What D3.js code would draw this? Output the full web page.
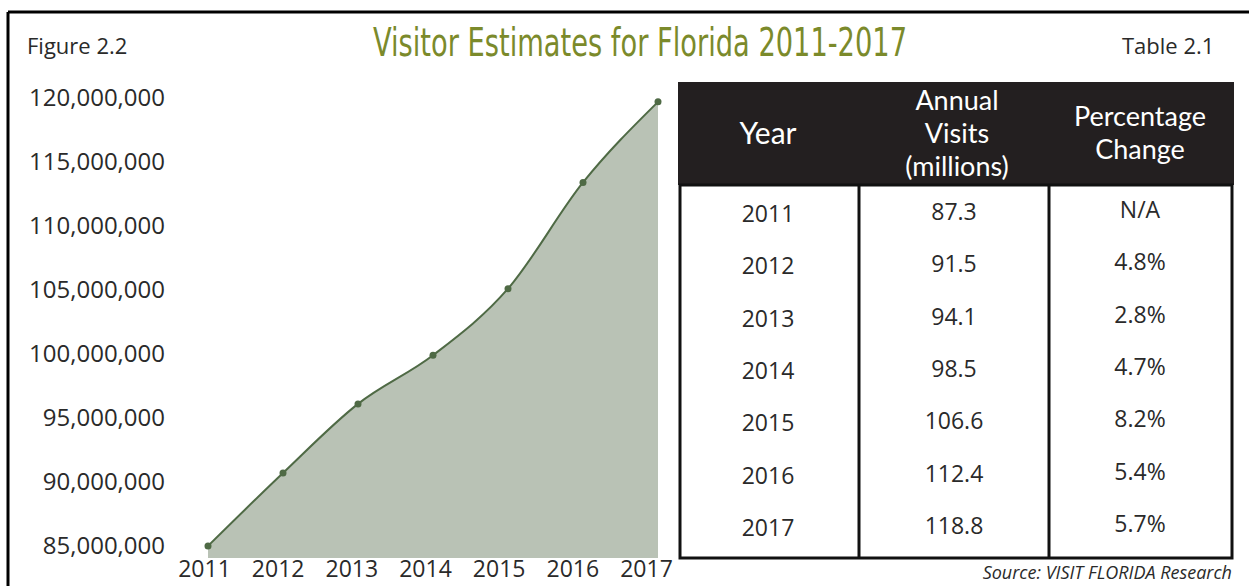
<!doctype html>
<html lang="en">
<head>
  <meta charset="utf-8">
  <title>Visitor Estimates for Florida 2011-2017</title>
  <script src="https://cdn.jsdelivr.net/npm/d3@7"></script>
  <style>
    body { margin: 0; background: #fff; }
    svg { display: block; font-family: "Open Sans", sans-serif; }
  </style>
</head>
<body>
  <svg id="chart"></svg>

  <script>
    // chart values
    var years = [2011, 2012, 2013, 2014, 2015, 2016, 2017];
    var chartVisits = [85000000, 90700000, 96100000, 99900000, 105100000, 113400000, 119700000];
    var yTicks = [85000000, 90000000, 95000000, 100000000, 105000000, 110000000, 115000000, 120000000];

    // table values
    var tableYears = ["2011", "2012", "2013", "2014", "2015", "2016", "2017"];
    var annualVisits = ["87.3", "91.5", "94.1", "98.5", "106.6", "112.4", "118.8"];
    var pctChange = ["N/A", "4.8%", "2.8%", "4.7%", "8.2%", "5.4%", "5.7%"];

    var W = 1249, H = 586;
    var TEXT = "#2a2a2a";
    var GREEN = "#4f6a45";

    var svg = d3.select("#chart").attr("width", W).attr("height", H);

    // frame
    svg.append("line").attr("x1", 8).attr("x2", W).attr("y1", 12).attr("y2", 12)
      .attr("stroke", "#000").attr("stroke-width", 3);
    svg.append("line").attr("x1", 8).attr("x2", 8).attr("y1", 12).attr("y2", H)
      .attr("stroke", "#000").attr("stroke-width", 3);

    // headings
    svg.append("text").attr("x", 27).attr("y", 54).text("Figure 2.2")
      .attr("font-size", 22).attr("fill", TEXT);
    svg.append("text").attr("x", 1122).attr("y", 54).text("Table 2.1")
      .attr("font-size", 22).attr("fill", TEXT);
    svg.append("text").attr("x", 373).attr("y", 56)
      .text("Visitor Estimates for Florida 2011-2017")
      .attr("font-family", "'Liberation Sans Narrow', 'DejaVu Sans Condensed', sans-serif")
      .attr("font-size", 39).attr("fill", "#7b8a2b")
      .attr("textLength", 534).attr("lengthAdjust", "spacingAndGlyphs");

    // ---- area chart ----
    var x = d3.scalePoint().domain(years).range([208, 658]);
    var y = d3.scaleLinear().domain([84060000, 120000000]).range([558, 98]);
    var xLabel = d3.scalePoint().domain(years).range([204, 646]);

    var data = years.map(function(d, i){ return {year: d, v: chartVisits[i]}; });

    var area = d3.area()
      .x(function(d){ return x(d.year); })
      .y0(y(y.domain()[0]))
      .y1(function(d){ return y(d.v); })
      .curve(d3.curveMonotoneX);

    var line = d3.line()
      .x(function(d){ return x(d.year); })
      .y(function(d){ return y(d.v); })
      .curve(d3.curveMonotoneX);

    svg.append("path").datum(data).attr("d", area).attr("fill", "#b9c2b5");
    svg.append("path").datum(data).attr("d", line)
      .attr("fill", "none").attr("stroke", GREEN).attr("stroke-width", 2);
    svg.selectAll("circle.pt").data(data).enter().append("circle")
      .attr("class", "pt")
      .attr("cx", function(d){ return x(d.year); })
      .attr("cy", function(d){ return y(d.v); })
      .attr("r", 3.5).attr("fill", GREEN);

    // y axis
    var yAxis = svg.append("g").attr("transform", "translate(165,0)")
      .call(d3.axisLeft(y).tickValues(yTicks).tickSize(0).tickPadding(0)
        .tickFormat(d3.format(",")));
    yAxis.select(".domain").remove();
    yAxis.selectAll("text").attr("font-size", 24).attr("fill", TEXT)
      .attr("font-family", "'Open Sans', sans-serif");

    // x axis
    var xAxis = svg.append("g").attr("transform", "translate(0,557)")
      .call(d3.axisBottom(xLabel).tickSize(0).tickPadding(4));
    xAxis.select(".domain").remove();
    xAxis.selectAll("text").attr("font-size", 23).attr("fill", TEXT)
      .attr("font-family", "'Open Sans', sans-serif");

    // ---- table ----
    var colEdges = [680, 859, 1049, 1232];
    var colMid = [768, 954, 1140];
    var rowY = d3.scalePoint().domain(tableYears).range([213, 527]);

    svg.append("rect").attr("x", 678).attr("y", 82).attr("width", 556).attr("height", 103)
      .attr("fill", "#231f20");
    svg.append("rect").attr("x", colEdges[0]).attr("y", 185)
      .attr("width", colEdges[3] - colEdges[0]).attr("height", 373)
      .attr("fill", "none").attr("stroke", "#111").attr("stroke-width", 3);
    svg.selectAll("line.div").data([colEdges[1], colEdges[2]]).enter().append("line")
      .attr("class", "div")
      .attr("x1", function(d){ return d; }).attr("x2", function(d){ return d; })
      .attr("y1", 185).attr("y2", 558)
      .attr("stroke", "#111").attr("stroke-width", 3);

    var head = svg.append("g").attr("fill", "#fff").attr("text-anchor", "middle")
      .attr("dominant-baseline", "central").attr("font-size", 27)
      .attr("font-family", "Lato, 'Open Sans', sans-serif");
    head.append("text").attr("x", colMid[0]).attr("y", 132).attr("font-size", 30).text("Year");
    [["Annual", 99], ["Visits", 132], ["(millions)", 165]].forEach(function(t){
      head.append("text").attr("x", 957).attr("y", t[1]).text(t[0]);
    });
    [["Percentage", 115], ["Change", 148]].forEach(function(t){
      head.append("text").attr("x", colMid[2]).attr("y", t[1]).text(t[0]);
    });

    var body = svg.append("g").attr("fill", TEXT).attr("text-anchor", "middle")
      .attr("dominant-baseline", "central").attr("font-size", 23);
    body.selectAll("text.yr").data(tableYears).enter().append("text").attr("class", "yr")
      .attr("x", colMid[0]).attr("y", function(d){ return rowY(d); }).text(function(d){ return d; });
    body.selectAll("text.vis").data(annualVisits).enter().append("text").attr("class", "vis")
      .attr("x", colMid[1]).attr("y", function(d, i){ return rowY(tableYears[i]) - 2; })
      .text(function(d){ return d; });
    body.selectAll("text.pct").data(pctChange).enter().append("text").attr("class", "pct")
      .attr("x", colMid[2]).attr("y", function(d, i){ return rowY(tableYears[i]) - 4; })
      .text(function(d){ return d; });

    svg.append("text").attr("x", 1232).attr("y", 579).attr("text-anchor", "end")
      .attr("font-size", 18).attr("font-style", "italic").attr("fill", TEXT)
      .text("Source: VISIT FLORIDA Research");
  </script>
</body>
</html>
